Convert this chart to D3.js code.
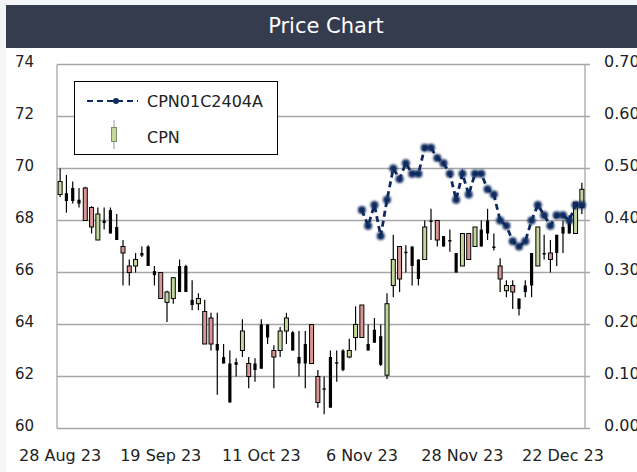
<!DOCTYPE html>
<html>
<head>
<meta charset="utf-8">
<script src="https://cdn.jsdelivr.net/npm/d3@7"></script>
<style>
  html, body { margin: 0; padding: 0; background: #f4f5f9; }
  svg { display: block; }
  text { font-family: "DejaVu Sans", sans-serif; }
</style>
</head>
<body>
<svg id="chart"></svg>
<script>
// trading days shown on the category axis
const dates = [
  "2023-08-28","2023-08-29","2023-08-30","2023-08-31",
  "2023-09-01","2023-09-04","2023-09-05","2023-09-06","2023-09-07","2023-09-08","2023-09-11","2023-09-12",
  "2023-09-13","2023-09-14","2023-09-15","2023-09-18","2023-09-19","2023-09-20","2023-09-21","2023-09-22",
  "2023-09-25","2023-09-26","2023-09-27","2023-09-28","2023-09-29",
  "2023-10-02","2023-10-03","2023-10-04","2023-10-05","2023-10-06","2023-10-09","2023-10-10","2023-10-11",
  "2023-10-12","2023-10-16","2023-10-17","2023-10-18","2023-10-19","2023-10-20","2023-10-24","2023-10-25",
  "2023-10-26","2023-10-27","2023-10-30","2023-10-31",
  "2023-11-01","2023-11-02","2023-11-03","2023-11-06","2023-11-07","2023-11-08","2023-11-09","2023-11-10",
  "2023-11-13","2023-11-14","2023-11-15","2023-11-16","2023-11-17","2023-11-20","2023-11-21","2023-11-22",
  "2023-11-23","2023-11-24","2023-11-27","2023-11-28","2023-11-29","2023-11-30",
  "2023-12-01","2023-12-04","2023-12-06","2023-12-07","2023-12-08","2023-12-12","2023-12-13","2023-12-14",
  "2023-12-15","2023-12-18","2023-12-19","2023-12-20","2023-12-21","2023-12-22","2023-12-25","2023-12-26",
  "2023-12-27"
];

// CPN daily prices
const open = [
  69.0, 69.05, 69.25, 68.8, 69.25, 68.5, 67.25, 68.0, 68.4, 67.75,
  67.0, 66.25, 66.25, 66.75, 67.0, 66.05, 66.0, 64.85, 65.0, 66.25,
  66.25, 64.95, 64.8, 64.5, 64.25, 63.25, 62.75, 62.5, 62.55, 63.0,
  62.5, 62.5, 64.0, 64.0, 63.0, 63.0, 63.75, 63.7, 62.75, 63.25,
  64.0, 62.0, 61.55, 62.75, 62.55, 63.0, 62.75, 63.5, 64.75, 63.25,
  63.8, 63.55, 62.05, 65.5, 67.0, 66.8, 67.0, 66.5, 66.5, 68.0,
  68.0, 67.4, 67.25, 66.75, 66.25, 67.5, 67.0, 67.65, 68.0, 67.0,
  66.25, 65.3, 65.5, 65.0, 65.5, 66.75, 66.25, 66.75, 66.75, 67.45,
  67.75, 67.95, 67.5, 68.5
];
const high = [
  70.0, 69.75, 69.5, 69.25, 69.3, 68.55, 68.5, 68.5, 68.5, 68.25,
  67.25, 66.5, 66.75, 67.0, 67.05, 66.25, 66.0, 65.3, 65.8, 66.5,
  66.3, 65.7, 65.2, 64.95, 64.45, 64.45, 63.25, 63.0, 62.7, 64.2,
  62.75, 62.7, 64.2, 64.0, 63.2, 63.9, 64.45, 63.75, 63.75, 63.75,
  64.0, 62.25, 62.0, 63.0, 63.0, 63.05, 63.45, 64.7, 64.75, 64.0,
  64.25, 64.0, 65.2, 67.45, 67.0, 67.05, 67.0, 66.5, 68.0, 68.45,
  68.0, 67.4, 67.65, 66.75, 67.5, 67.5, 67.75, 68.0, 68.45, 67.5,
  66.55, 65.7, 65.7, 65.0, 65.7, 66.75, 67.75, 67.45, 67.25, 67.45,
  68.0, 68.2, 68.7, 69.45
];
const low = [
  68.9, 68.3, 68.65, 68.5, 68.0, 67.5, 67.25, 67.65, 67.5, 67.25,
  65.5, 65.5, 66.0, 66.6, 66.25, 65.5, 65.0, 64.1, 64.8, 65.25,
  65.25, 64.55, 64.55, 63.25, 63.0, 61.3, 62.5, 61.0, 62.0, 62.75,
  61.55, 61.8, 62.3, 63.25, 61.55, 62.75, 63.25, 63.0, 62.0, 61.55,
  62.5, 60.8, 60.55, 60.8, 61.8, 62.2, 62.7, 63.0, 63.5, 63.0,
  63.3, 62.4, 61.9, 65.05, 65.25, 66.0, 65.5, 65.5, 66.5, 67.25,
  67.0, 67.0, 66.8, 66.0, 66.25, 66.5, 67.0, 67.0, 67.25, 66.85,
  65.25, 65.05, 64.6, 64.35, 65.05, 65.05, 66.25, 66.5, 66.0, 66.25,
  66.75, 67.5, 67.5, 68.25
];
const close = [
  69.5, 68.75, 68.75, 68.65, 68.0, 67.75, 68.25, 67.9, 67.5, 67.25,
  66.75, 66.0, 66.5, 66.65, 66.25, 65.9, 65.0, 65.25, 65.8, 65.25,
  65.25, 64.75, 65.0, 63.25, 63.25, 63.0, 62.5, 61.0, 62.45, 63.75,
  62.0, 62.25, 62.3, 63.5, 62.75, 63.75, 64.25, 63.0, 62.5, 62.5,
  62.5, 61.0, 61.5, 60.8, 62.5, 62.25, 63.0, 64.0, 63.5, 63.0,
  63.3, 62.45, 64.8, 66.5, 65.75, 66.75, 66.25, 65.75, 67.75, 67.95,
  67.25, 67.0, 67.2, 66.0, 67.5, 66.5, 67.75, 67.0, 67.5, 66.95,
  65.75, 65.5, 65.25, 64.6, 65.25, 65.5, 67.75, 66.7, 66.5, 66.75,
  67.5, 67.5, 68.7, 69.2
];
// candle body category as shown in the source: u = rising, d = falling, s = solid
const bodyType = [
  "u","s","s","s","d","d","u","s","s","s",
  "d","d","u","s","s","s","d","u","u","s",
  "s","s","u","d","d","s","s","s","s","u",
  "d","s","s","s","d","u","u","s","s","s",
  "d","d","s","s","s","s","u","u","d","s",
  "s","s","u","u","d","s","s","s","u","s",
  "d","s","s","s","u","d","u","s","s","s",
  "d","u","d","s","s","s","u","s","d","s",
  "s","s","u","u"
];

// CPN01C2404A derivative warrant, from its first trading day
const warrantStart = "2023-11-06";
const warrant = [
  0.42, 0.39, 0.43, 0.37, 0.44, 0.50, 0.48, 0.51, 0.49, 0.49,
  0.54, 0.54, 0.52, 0.51, 0.49, 0.44, 0.49, 0.45, 0.49, 0.49,
  0.46, 0.45, 0.40, 0.39, 0.36, 0.35, 0.36, 0.40, 0.43, 0.41,
  0.39, 0.41, 0.41, 0.40, 0.43, 0.43
];

const priceTicks = [60, 62, 64, 66, 68, 70, 72, 74];
const warrantTicks = [0, 0.1, 0.2, 0.3, 0.4, 0.5, 0.6, 0.7];
const tickDates = ["2023-08-28", "2023-09-19", "2023-10-11", "2023-11-06", "2023-11-28", "2023-12-22"];

const W = 637, H = 472;
const plot = { left: 57, right: 585, top: 64.5, bottom: 428.5 };
const gridColor = "#a6a6a6";
const navy = "#0f2a5e";
const upFill = "#c4d79b", downFill = "#d99694";

const svg = d3.select("#chart").attr("width", W).attr("height", H);

svg.append("rect").attr("x", 6).attr("y", 48).attr("width", W - 6).attr("height", H - 48).attr("fill", "#fff");
svg.append("rect").attr("x", 6).attr("y", 5).attr("width", W - 6).attr("height", 43).attr("fill", "#343c4e");
svg.append("text")
  .attr("x", 326).attr("y", 26)
  .attr("text-anchor", "middle").attr("dominant-baseline", "central")
  .attr("fill", "#fff").attr("font-size", 21)
  .text("Price Chart");

const x = d3.scaleBand().domain(d3.range(dates.length)).range([plot.left, plot.right]);
const cx = i => x(i) + x.bandwidth() / 2;
const y = d3.scaleLinear().domain([60, 74]).range([plot.bottom, plot.top]);
const y2 = d3.scaleLinear().domain([0, 0.7]).range([plot.bottom, plot.top]);

// gridlines, with a short tick past the right border
svg.append("g").selectAll("line")
  .data(priceTicks)
  .join("line")
  .attr("x1", plot.left).attr("x2", plot.right + 5)
  .attr("y1", d => y(d)).attr("y2", d => y(d))
  .attr("stroke", gridColor).attr("stroke-width", 1.3);

svg.append("line")
  .attr("x1", plot.left).attr("x2", plot.left)
  .attr("y1", plot.top).attr("y2", plot.bottom)
  .attr("stroke", gridColor).attr("stroke-width", 1.3);
svg.append("line")
  .attr("x1", plot.right).attr("x2", plot.right)
  .attr("y1", plot.top).attr("y2", plot.bottom)
  .attr("stroke", gridColor).attr("stroke-width", 1.3);

// left axis
const leftAxis = svg.append("g")
  .attr("transform", `translate(${plot.left},0)`)
  .call(d3.axisLeft(y).tickValues(priceTicks).tickSize(0).tickPadding(23));
leftAxis.select(".domain").remove();
leftAxis.selectAll("text")
  .attr("font-size", 15).attr("font-family", "DejaVu Sans")
  .attr("fill", "#222").attr("dy", "2.4");

// right axis (labels run past the window edge, as in the source)
const rightAxis = svg.append("g")
  .attr("transform", `translate(${plot.right},0)`)
  .call(d3.axisRight(y2).tickValues(warrantTicks).tickSize(0).tickPadding(19).tickFormat(d3.format(".2f")));
rightAxis.select(".domain").remove();
rightAxis.selectAll("text")
  .attr("font-size", 16).attr("font-family", "DejaVu Sans")
  .attr("fill", "#222").attr("dy", "2");

// bottom labels
const fmt = d3.timeFormat("%-d %b %y");
const parse = d3.timeParse("%Y-%m-%d");
svg.append("g").selectAll("text")
  .data(tickDates)
  .join("text")
  .attr("x", d => cx(dates.indexOf(d)))
  .attr("y", 461)
  .attr("text-anchor", "middle")
  .attr("font-size", 16).attr("fill", "#222")
  .text(d => fmt(parse(d)));

// candles
const candles = dates.map((d, i) => ({
  i, o: open[i], h: high[i], l: low[i], c: close[i], t: bodyType[i]
}));

svg.append("g").selectAll("line")
  .data(candles)
  .join("line")
  .attr("x1", d => cx(d.i)).attr("x2", d => cx(d.i))
  .attr("y1", d => y(d.h)).attr("y2", d => y(d.l))
  .attr("stroke", "#000").attr("stroke-width", 1.2);

svg.append("g").selectAll("rect")
  .data(candles)
  .join("rect")
  .attr("x", d => cx(d.i) - (d.t === "s" ? 1.6 : 2))
  .attr("width", d => d.t === "s" ? 3.2 : 4)
  .attr("y", d => y(Math.max(d.o, d.c)))
  .attr("height", d => Math.max(1.5, Math.abs(y(d.o) - y(d.c))))
  .attr("fill", d => d.t === "u" ? upFill : d.t === "d" ? downFill : "#000")
  .attr("stroke", d => d.t === "s" ? "none" : "#000")
  .attr("stroke-width", 1);

// warrant series
const defs = svg.append("defs");
defs.append("filter").attr("id", "soft")
  .attr("x", "-50%").attr("y", "-50%").attr("width", "200%").attr("height", "200%")
  .append("feGaussianBlur").attr("stdDeviation", 0.9);

const w0 = dates.indexOf(warrantStart);
const wData = warrant.map((v, j) => ({ i: w0 + j, v }));

svg.append("path")
  .datum(wData)
  .attr("fill", "none")
  .attr("stroke", navy).attr("stroke-width", 2.8)
  .attr("stroke-dasharray", "6,4")
  .attr("d", d3.line().x(d => cx(d.i)).y(d => y2(d.v)));

svg.append("g").selectAll("circle")
  .data(wData)
  .join("circle")
  .attr("cx", d => cx(d.i)).attr("cy", d => y2(d.v))
  .attr("r", 4)
  .attr("fill", navy)
  .attr("filter", "url(#soft)");

// legend
const lg = svg.append("g");
lg.append("rect")
  .attr("x", 74.5).attr("y", 81.5).attr("width", 203).attr("height", 73)
  .attr("fill", "#fff").attr("stroke", "#000").attr("stroke-width", 1);
lg.append("line")
  .attr("x1", 87).attr("x2", 138).attr("y1", 101).attr("y2", 101)
  .attr("stroke", navy).attr("stroke-width", 2)
  .attr("stroke-dasharray", "6,4");
lg.append("circle").attr("cx", 116).attr("cy", 101).attr("r", 3).attr("fill", navy);
lg.append("text").attr("x", 147).attr("y", 101)
  .attr("dominant-baseline", "central").attr("font-size", 16).attr("fill", "#222")
  .text("CPN01C2404A");
lg.append("line")
  .attr("x1", 114).attr("x2", 114).attr("y1", 120).attr("y2", 149)
  .attr("stroke", "#9a9a9a").attr("stroke-width", 1);
lg.append("rect")
  .attr("x", 111.5).attr("y", 127.5).attr("width", 5).attr("height", 14)
  .attr("fill", upFill).attr("stroke", "#7f8a6a").attr("stroke-width", 1);
lg.append("text").attr("x", 147).attr("y", 137)
  .attr("dominant-baseline", "central").attr("font-size", 16).attr("fill", "#222")
  .text("CPN");
</script>
</body>
</html>
